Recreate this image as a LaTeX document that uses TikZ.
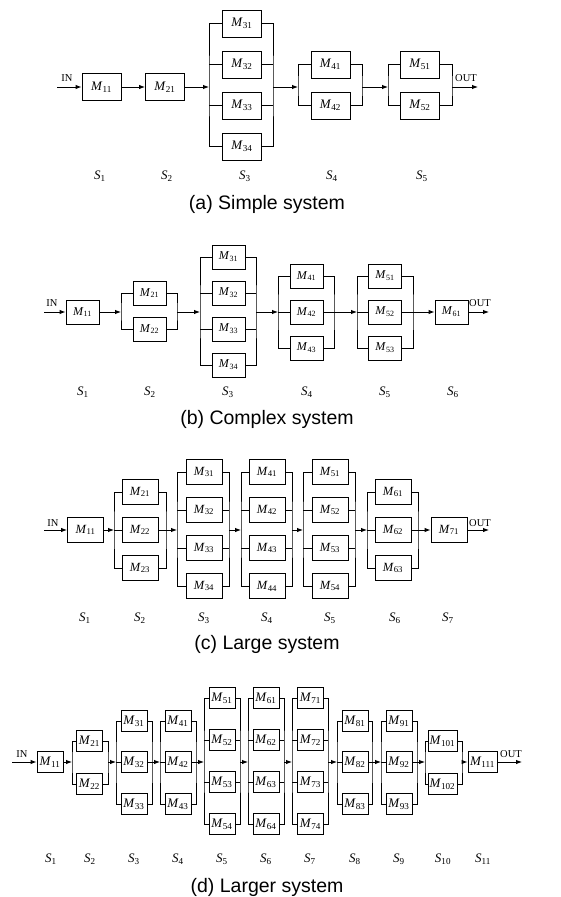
\documentclass[tikz,border=0pt]{standalone}
\usepackage{fontspec}
\setmainfont{Liberation Serif}
\newfontfamily\capfont{Liberation Sans}
\usetikzlibrary{arrows, arrows.meta}
\NewDocumentCommand \Mlab{ m }{%
    \textit{M}\textsubscript{#1}%
}
\NewDocumentCommand \Slab{ m }{%
    \textit{S}\textsubscript{#1}%
}
% one parallel stage: panel, stage, left bus x, box x, right bus x, centre y, box y's
\NewDocumentCommand \stage{ O{} m m m m m m m }{%
    \coordinate (#2l#3) at (#4,#7) ;
    \coordinate (#2r#3) at (#6,#7) ;
    \foreach \yb [count=\j] in {#8} {
        \draw (#5,\yb) node[box, #1] (#2m#3-\j) {\Mlab{#3\j}} ;
        \draw (#2m#3-\j.west) -- (#2m#3-\j.west -| #2l#3) ;
        \draw (#2m#3-\j.east) -- (#2m#3-\j.east -| #2r#3) ;
        \xdef\nlast{\j}
    }
    \draw (#2m#3-1.west) -| (#2l#3) |- (#2m#3-\nlast.west) ;
    \draw (#2m#3-1.east) -| (#2r#3) |- (#2m#3-\nlast.east) ;
}
% one single box stage: panel, stage, x, y
\NewDocumentCommand \single{ O{} m m m m }{%
    \draw (#4,#5) node[box, #1] (#2m#3-1) {\Mlab{#31}} ;
    \coordinate (#2l#3) at (#2m#3-1.west) ;
    \coordinate (#2r#3) at (#2m#3-1.east) ;
}

\begin{document}
\begin{tikzpicture}[x=1pt, y=-1pt, line width=0.9pt]
    \tikzstyle{box}=[draw, fill=white, inner sep=0pt, minimum width=39pt, minimum height=27pt, font=\fontsize{13}{15}\selectfont]
    \tikzstyle{arr}=[-{Latex[length=6pt, width=4.5pt]}]
    \tikzstyle{io}=[inner sep=0pt, font=\fontsize{10.5}{12}\selectfont]
    \tikzstyle{stg}=[inner sep=0pt, font=\fontsize{13}{15}\selectfont]
    \tikzstyle{title}=[inner sep=0pt, font=\capfont\fontsize{19.5}{22}\selectfont]
    \useasboundingbox (0,0) rectangle (560,897) ;

    % (a) simple system
    \single{a}{1}{101.5}{87}
    \single{a}{2}{165}{87}
    \stage{a}{3}{209}{242}{273}{87}{23.5,64.5,105.5,146.5}
    \stage{a}{4}{298}{330.5}{362}{87}{64.5,105.5}
    \stage{a}{5}{388}{420}{452}{87}{64.5,105.5}
    \coordinate (ain) at (57,87) ;
    \coordinate (aout) at (478,87) ;
    \draw[arr] (ain) -- (al1) ;
    \foreach \a [count=\b from 2] in {1,...,4} \draw[arr] (ar\a) -- (al\b) ;
    \draw[arr] (ar5) -- (aout) ;
    \draw (67,78) node[io] (aIN) {IN} ;
    \draw (466,78) node[io] (aOUT) {OUT} ;
    \foreach \s/\x in {1/100,2/167,3/245,4/332,5/422}
        \draw (\x,176) node[stg] (aS\s) {\Slab{\s}} ;
    \draw (267,204) node[title] (atitle) {(a) Simple system} ;

    % (b) complex system
    \begin{scope}[box/.append style={minimum width=33pt, minimum height=24pt, font=\fontsize{12}{14}\selectfont}]
    \single{b}{1}{82.5}{312}
    \stage{b}{2}{121}{149.5}{177}{312}{293,329}
    \stage{b}{3}{200}{228.5}{256}{312}{257,293,329,365}
    \stage{b}{4}{278}{306.5}{334}{312}{276,312,348}
    \stage{b}{5}{357}{385}{413}{312}{276,312,348}
    \single{b}{6}{451.5}{312}
    \end{scope}
    \coordinate (bin) at (44,312) ;
    \coordinate (bout) at (489,312) ;
    \draw[arr] (bin) -- (bl1) ;
    \foreach \a [count=\b from 2] in {1,...,5} \draw[arr] (br\a) -- (bl\b) ;
    \draw[arr] (br6) -- (bout) ;
    \draw (52,303) node[io] (bIN) {IN} ;
    \draw (480,303) node[io] (bOUT) {OUT} ;
    \foreach \s/\x in {1/83,2/150,3/228,4/307,5/385,6/453}
        \draw (\x,392) node[stg] (bS\s) {\Slab{\s}} ;
    \draw (267,419) node[title] (btitle) {(b) Complex system} ;

    % (c) large system
    \begin{scope}[box/.append style={minimum width=36pt, minimum height=25pt, font=\fontsize{12.5}{14}\selectfont}]
    \single{c}{1}{85.5}{530}
    \stage{c}{2}{114}{140}{166}{530}{492,530,568}
    \stage{c}{3}{177}{204}{229}{530}{472,510,548,586}
    \stage{c}{4}{241}{267}{292}{530}{472,510,548,586}
    \stage{c}{5}{303}{330}{355}{530}{472,510,548,586}
    \stage{c}{6}{367}{393}{418}{530}{492,530,568}
    \single{c}{7}{449}{530}
    \end{scope}
    \coordinate (cin) at (44,530) ;
    \coordinate (cout) at (489,530) ;
    \draw[arr] (cin) -- (cl1) ;
    \foreach \a [count=\b from 2] in {1,...,6} \draw[arr] (cr\a) -- (cl\b) ;
    \draw[arr] (cr7) -- (cout) ;
    \draw (53,523) node[io] (cIN) {IN} ;
    \draw (480,523) node[io] (cOUT) {OUT} ;
    \foreach \s/\x in {1/85,2/140,3/204,4/267,5/330,6/395,7/448}
        \draw (\x,618) node[stg] (cS\s) {\Slab{\s}} ;
    \draw (267,644) node[title] (ctitle) {(c) Large system} ;

    % (d) larger system
    \begin{scope}[box/.append style={minimum width=26pt, minimum height=21pt, font=\fontsize{13}{15}\selectfont}]
    \single{d}{1}{50}{762}
    \stage{d}{2}{72}{89.5}{108}{762}{741,784}
    \stage{d}{3}{116}{134}{152}{762}{721,762,804}
    \stage{d}{4}{160}{178}{196}{762}{721,762,804}
    \stage{d}{5}{204}{222}{240}{762}{698,740,782,824}
    \stage{d}{6}{248}{266}{284}{762}{698,740,782,824}
    \stage{d}{7}{292}{310.5}{328}{762}{698,740,782,824}
    \stage{d}{8}{337}{355}{372}{762}{721,762,804}
    \stage{d}{9}{381}{399}{417}{762}{721,762,804}
    \stage[minimum width=29pt]{d}{10}{425}{442.5}{462}{762}{741,784}
    \single[minimum width=29pt]{d}{11}{482.5}{762}
    \end{scope}
    \coordinate (din) at (12,762) ;
    \coordinate (dout) at (522,762) ;
    \draw[arr] (din) -- (dl1) ;
    \foreach \a [count=\b from 2] in {1,...,10} \draw[arr] (dr\a) -- (dl\b) ;
    \draw[arr] (dr11) -- (dout) ;
    \draw (22,754) node[io] (dIN) {IN} ;
    \draw (511,754) node[io] (dOUT) {OUT} ;
    \foreach \s/\x in {1/51,2/90,3/134,4/178,5/222,6/266,7/310,8/355,9/399,10/443,11/483}
        \draw (\x,859) node[stg] (dS\s) {\Slab{\s}} ;
    \draw (267,887) node[title] (dtitle) {(d) Larger system} ;
\end{tikzpicture}
\end{document}
